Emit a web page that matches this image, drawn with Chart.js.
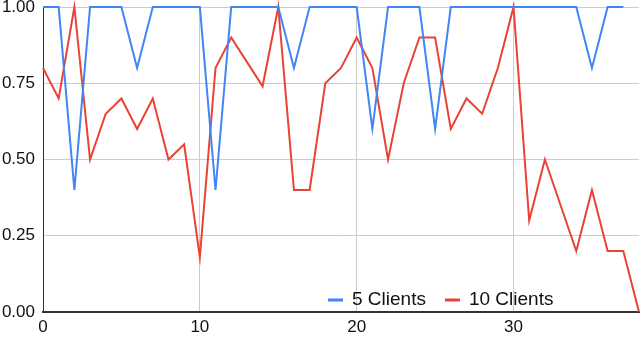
<!DOCTYPE html>
<html>
<head>
<meta charset="utf-8">
<script src="https://cdn.jsdelivr.net/npm/chart.js@4/dist/chart.umd.min.js"></script>
<style>
  html, body { margin: 0; padding: 0; background: #fff; }
  #wrap { width: 640px; height: 338px; }
</style>
</head>
<body>
<div id="wrap"><canvas id="chart0" width="640" height="338"></canvas></div>
<script>
// round index 0..38
let rounds = [];
for (let i = 0; i <= 38; i++) rounds.push(i);

let fiveClients = [1, 1, 0.4, 1, 1, 1, 0.8, 1, 1, 1,
                   1, 0.4, 1, 1, 1, 1, 0.8, 1, 1, 1,
                   1, 0.6, 1, 1, 1, 0.6, 1, 1, 1, 1,
                   1, 1, 1, 1, 1, 0.8, 1, 1];

let tenClients = [0.8, 0.7, 1, 0.5, 0.65, 0.7, 0.6, 0.7, 0.5, 0.55,
                  0.18, 0.8, 0.9, 0.82, 0.74, 1, 0.4, 0.4, 0.75, 0.8,
                  0.9, 0.8, 0.5, 0.75, 0.9, 0.9, 0.6, 0.7, 0.65, 0.8,
                  1, 0.3, 0.5, 0.35, 0.2, 0.4, 0.2, 0.2, 0];

let yTicks = [0, 0.25, 0.5, 0.75, 1];
let seriesNames = ['5 Clients', '10 Clients'];
let seriesColors = ['#4285F4', '#EA4335'];

function toPoints(values) {
    return values.map((v, i) => ({ x: rounds[i], y: v }));
}

const fontFamily = '"Liberation Sans", Arial, sans-serif';

// legend drawn inside the plot, bottom right
const insideLegend = {
    id: 'insideLegend',
    afterDatasetsDraw(chart) {
        const ctx = chart.ctx;
        const area = chart.chartArea;
        ctx.save();
        ctx.font = '19px ' + fontFamily;
        ctx.textBaseline = 'middle';
        let x = area.left + 285;
        let y = area.bottom - 12;
        chart.data.datasets.forEach(ds => {
            ctx.fillStyle = ds.borderColor;
            ctx.fillRect(x, y - 1.5, 15, 3);
            x += 24;
            ctx.fillStyle = '#111';
            ctx.fillText(ds.label, x, y);
            x += ctx.measureText(ds.label).width + 19;
        });
        ctx.restore();
    }
};

new Chart(document.getElementById('chart0'), {
    type: 'line',
    data: {
        datasets: [
            {
                label: seriesNames[0],
                data: toPoints(fiveClients),
                borderColor: seriesColors[0],
                backgroundColor: seriesColors[0],
                borderWidth: 2,
                pointRadius: 0,
                tension: 0,
                clip: false
            },
            {
                label: seriesNames[1],
                data: toPoints(tenClients),
                borderColor: seriesColors[1],
                backgroundColor: seriesColors[1],
                borderWidth: 2,
                pointRadius: 0,
                tension: 0,
                clip: false
            }
        ]
    },
    options: {
        responsive: false,
        animation: false,
        layout: { padding: { top: 7, right: 1, left: 0, bottom: 0 } },
        plugins: {
            legend: { display: false },
            tooltip: { enabled: false }
        },
        scales: {
            x: {
                type: 'linear',
                min: 0,
                max: 38,
                afterFit: s => { s.height = 26; s.paddingLeft = 0; s.paddingRight = 0; },
                grid: {
                    drawTicks: false,
                    color: ctx => (ctx.tick && ctx.tick.value === 0) ? 'rgba(0,0,0,0)' : '#cccccc'
                },
                border: { display: true, color: '#333333', width: 2 },
                ticks: {
                    stepSize: 10,
                    includeBounds: false,
                    padding: 5,
                    color: '#111',
                    font: { size: 17, family: fontFamily }
                }
            },
            y: {
                min: 0,
                max: 1,
                afterFit: s => { s.width = 43; s.paddingTop = 0; s.paddingBottom = 0; },
                afterBuildTicks: s => { s.ticks = yTicks.map(v => ({ value: v })); },
                grid: {
                    drawTicks: false,
                    color: '#cccccc'
                },
                border: { display: true, color: '#333333', width: 1 },
                ticks: {
                    padding: 8,
                    color: '#111',
                    font: { size: 17, family: fontFamily },
                    callback: v => v.toFixed(2)
                }
            }
        }
    },
    plugins: [insideLegend]
});
</script>
</body>
</html>
